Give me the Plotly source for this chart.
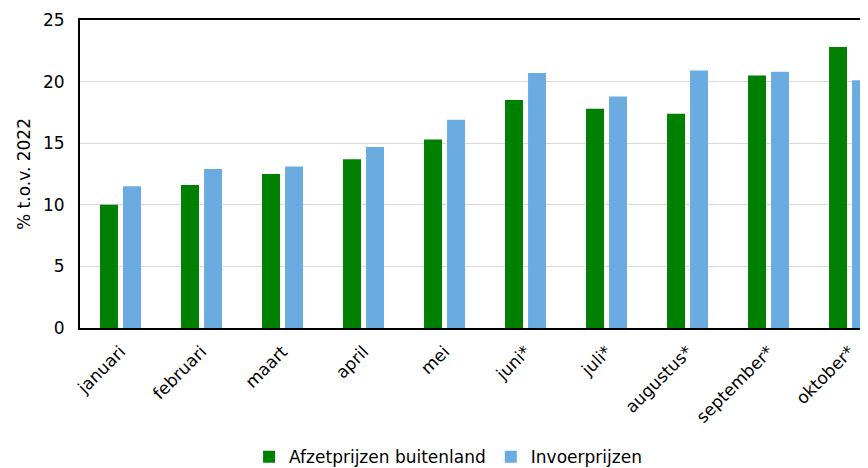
import plotly.graph_objects as go

# monthly price change vs 2022 (%)
maanden = ["januari", "februari", "maart", "april", "mei",
           "juni*", "juli*", "augustus*", "september*", "oktober*"]
afzet_buitenland = [10.0, 11.6, 12.5, 13.7, 15.3, 18.5, 17.8, 17.4, 20.5, 22.8]
invoer = [11.5, 12.9, 13.1, 14.7, 16.9, 20.7, 18.8, 20.9, 20.8, 20.1]

FONT = "DejaVu Sans, Verdana, sans-serif"
GREEN = "#008000"
BLUE = "#6aace2"
FS = 17

fig = go.Figure()
fig.add_trace(go.Bar(
    x=list(range(len(maanden))), y=afzet_buitenland, name="Afzetprijzen buitenland",
    marker=dict(color=GREEN, line=dict(width=0)),
    width=0.222, offset=-0.253,
))
fig.add_trace(go.Bar(
    x=list(range(len(maanden))), y=invoer, name="Invoerprijzen",
    marker=dict(color=BLUE, line=dict(width=0)),
    width=0.222, offset=0.031,
))

# page body shifts the figure 8px right/down; margins compensate for that
fig.update_layout(
    width=868, height=468,
    margin=dict(l=72, r=8, t=12, b=148),
    barmode="overlay",
    plot_bgcolor="white", paper_bgcolor="white",
    font=dict(family=FONT, size=FS, color="#000000"),
    showlegend=True,
    legend=dict(
        orientation="h", xref="container", yref="container",
        x=0.507, xanchor="center", y=0.04, yanchor="middle",
        font=dict(size=FS), itemwidth=30, traceorder="normal",
    ),
)
fig.update_xaxes(
    range=[-0.5, 9.228], automargin=False,
    tickmode="array", tickvals=list(range(len(maanden))), ticktext=maanden,
    tickangle=-45, ticks="", showgrid=False, zeroline=False,
    showline=True, linecolor="#000000", linewidth=2, mirror=True,
    ticklabelstandoff=5,
    tickfont=dict(size=FS),
)
fig.update_yaxes(
    range=[0, 25], dtick=5, ticks="", automargin=False,
    showgrid=True, gridcolor="#d9d9d9", gridwidth=1, zeroline=False,
    showline=True, linecolor="#000000", linewidth=2,
    ticklabelstandoff=10,
    title=dict(text="% t.o.v. 2022", font=dict(size=FS), standoff=8),
    tickfont=dict(size=FS),
)

fig.write_html("out.html")
